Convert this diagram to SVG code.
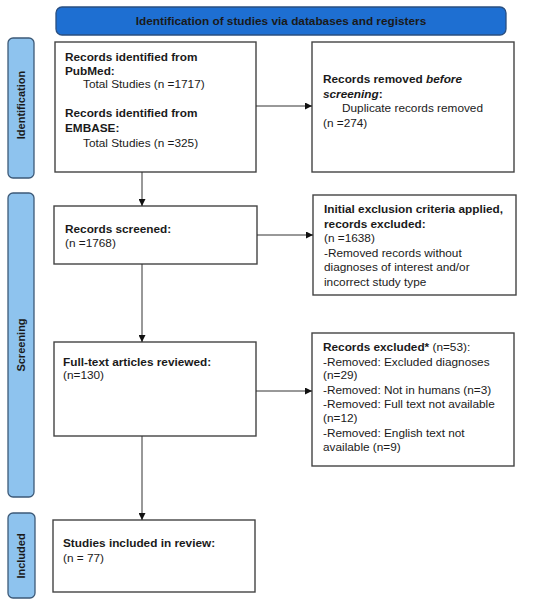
<svg xmlns="http://www.w3.org/2000/svg" width="550" height="602" viewBox="0 0 550 602">
<style>
text{font-family:"Liberation Sans",Arial,sans-serif;font-size:11.8px;fill:#1a1a1a}
.b{font-weight:bold}
.box{fill:#fff;stroke:#444;stroke-width:1.4}
.lab{fill:#8ec3ee;stroke:#3d5a78;stroke-width:1.3}
.lt{font-weight:bold;font-size:11px;text-anchor:middle}
.con{stroke:#333;stroke-width:1;fill:none;marker-end:url(#ah)}
</style>
<defs>
<marker id="ah" viewBox="0 0 10 10" refX="10" refY="5" markerWidth="7" markerHeight="7" markerUnits="userSpaceOnUse" orient="auto">
<path d="M0,0 L10,5 L0,10 z" fill="#111"/>
</marker>
</defs>
<rect width="550" height="602" fill="#fff"/>
<g id="banner">
<rect x="56" y="7" width="450" height="28" rx="6" fill="#1e6fd2" stroke="#2a4f80" stroke-width="1.3"/>
<text x="281" y="25" class="lt" style="font-size:11.8px" fill="#111">Identification of studies via databases and registers</text>
</g>
<g id="label-identification">
<rect x="8" y="38" width="26" height="140" rx="5" class="lab"/>
<text class="lt" transform="translate(25,105) rotate(-90)">Identification</text>
</g>
<g id="label-screening">
<rect x="8" y="193" width="26" height="304" rx="5" class="lab"/>
<text class="lt" transform="translate(25,345) rotate(-90)">Screening</text>
</g>
<g id="label-included">
<rect x="8" y="513" width="27" height="85" rx="5" class="lab"/>
<text class="lt" transform="translate(25,556) rotate(-90)">Included</text>
</g>
<g id="records-identified">
<rect x="55" y="42" width="201" height="130" class="box"/>
<text x="65" y="61" class="b">Records identified from</text>
<text x="65" y="75" class="b">PubMed:</text>
<text x="83" y="88">Total Studies (n =1717)</text>
<text x="65" y="117" class="b">Records identified from</text>
<text x="65" y="132" class="b">EMBASE:</text>
<text x="83" y="147">Total Studies (n =325)</text>
</g>
<g id="records-removed">
<rect x="312" y="42" width="202" height="130" class="box"/>
<text x="323" y="83"><tspan class="b">Records removed </tspan><tspan class="b" font-style="italic">before</tspan></text>
<text x="323" y="98"><tspan class="b" font-style="italic">screening</tspan><tspan class="b">:</tspan></text>
<text x="342" y="112">Duplicate records removed</text>
<text x="323" y="127">(n =274)</text>
</g>
<g id="records-screened">
<rect x="54" y="206" width="203" height="58" class="box"/>
<text x="65" y="233" class="b">Records screened:</text>
<text x="65" y="247">(n =1768)</text>
</g>
<g id="initial-exclusion">
<rect x="313" y="195" width="203" height="100" class="box"/>
<text x="324" y="213" class="b">Initial exclusion criteria applied,</text>
<text x="324" y="228" class="b">records excluded:</text>
<text x="324" y="242">(n =1638)</text>
<text x="324" y="257">-Removed records without</text>
<text x="324" y="271">diagnoses of interest and/or</text>
<text x="324" y="286">incorrect study type</text>
</g>
<g id="full-text">
<rect x="54" y="342" width="202" height="94" class="box"/>
<text x="63" y="366" class="b">Full-text articles reviewed:</text>
<text x="63" y="379">(n=130)</text>
</g>
<g id="records-excluded">
<rect x="312" y="333" width="202" height="133" class="box"/>
<text x="323" y="351"><tspan class="b">Records excluded*</tspan> (n=53):</text>
<text x="323" y="366">-Removed: Excluded diagnoses</text>
<text x="323" y="379">(n=29)</text>
<text x="323" y="394">-Removed: Not in humans (n=3)</text>
<text x="323" y="408">-Removed: Full text not available</text>
<text x="323" y="422">(n=12)</text>
<text x="323" y="437">-Removed: English text not</text>
<text x="323" y="451">available (n=9)</text>
</g>
<g id="included">
<rect x="53" y="520" width="202" height="72" class="box"/>
<text x="63" y="547" class="b">Studies included in review:</text>
<text x="63" y="562">(n = 77)</text>
</g>
<g id="connectors">
<path d="M256,106 H312" class="con"/>
<path d="M142,172 V206" class="con"/>
<path d="M257,235 H313" class="con"/>
<path d="M142,264 V342" class="con"/>
<path d="M256,391 H312" class="con"/>
<path d="M142,436 V520" class="con"/>
</g>
</svg>
